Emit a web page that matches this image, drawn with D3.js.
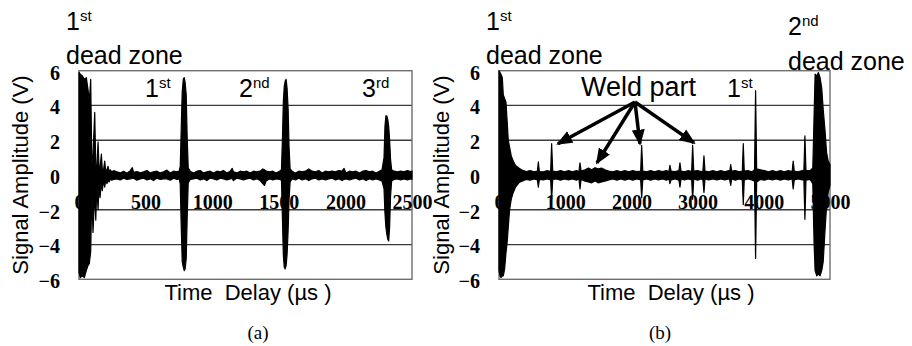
<!DOCTYPE html>
<html>
<head>
<meta charset="utf-8">
<script src="https://cdn.jsdelivr.net/npm/d3@7"></script>
<style>
  body { margin: 0; background: #fff; }
  text { white-space: pre; }
</style>
</head>
<body>
<div id="chart"></div>
<script>
// y axis (both panels)
const yTicks = [-6, -4, -2, 0, 2, 4, 6];
const gridValues = [-4, -2, 2, 4];

// panel (a) : 0..2500 us
const xTicksA = [0, 500, 1000, 1500, 2000, 2500];
// [time us, upper envelope V, lower envelope V]
const signalA = [
  [0, 5.9, -5.6], [10, 5.8, -5.9], [25, 5.7, -5.8], [40, 5.5, -5.9], [55, 5.6, -5.5],
  [68, 4.9, -5.2], [77, 4.2, -5.1], [88, 5.5, -4.4], [96, 0.6, -1.0], [105, 1.2, -3.3],
  [118, 3.6, -1.0], [126, 0.5, -2.6], [134, 0.4, -0.6], [143, 1.9, -2.0], [151, 0.3, -0.5],
  [158, 0.4, -1.3], [168, 1.2, -0.4], [175, 0.3, -0.9], [184, 0.3, -0.3], [193, 0.8, -0.7],
  [200, 0.25, -0.3], [210, 0.3, -0.5], [218, 0.5, -0.3], [226, 0.2, -0.4], [235, 0.3, -0.22],
  [245, 0.18, -0.3], [260, 0.25, -0.25],
  [285, 0.18, -0.22], [310, 0.12, -0.28], [335, 0.22, -0.18], [360, 0.1, -0.26], [385, 0.25, -0.22],
  [400, 0.42, -0.2], [410, 0.15, -0.18], [435, 0.2, -0.3], [460, 0.12, -0.22], [485, 0.18, -0.18],
  [510, 0.26, -0.28], [535, 0.12, -0.22], [560, 0.18, -0.32], [585, 0.22, -0.18], [610, 0.12, -0.26],
  [635, 0.18, -0.22], [660, 0.28, -0.22], [685, 0.12, -0.3], [710, 0.22, -0.18], [735, 0.18, -0.26],
  [752, 0.22, -0.22],
  [760, 0.5, -0.5], [767, 2.5, -2.8], [775, 4.8, -5.0], [783, 5.5, -5.3], [790, 5.6, -5.5],
  [797, 5.3, -5.4], [805, 4.6, -4.8], [812, 2.2, -2.5], [820, 0.4, -0.45],
  [835, 0.22, -0.26], [860, 0.12, -0.22], [885, 0.22, -0.18], [910, 0.26, -0.28], [935, 0.12, -0.22],
  [960, 0.18, -0.32], [985, 0.22, -0.18], [1010, 0.12, -0.22], [1035, 0.22, -0.28], [1060, 0.18, -0.18],
  [1085, 0.26, -0.22], [1110, 0.12, -0.28], [1135, 0.22, -0.22], [1150, 0.38, -0.2], [1160, 0.18, -0.32],
  [1185, 0.12, -0.18], [1210, 0.22, -0.22], [1235, 0.18, -0.28], [1260, 0.22, -0.22], [1285, 0.12, -0.18],
  [1310, 0.22, -0.28], [1335, 0.18, -0.22], [1360, 0.22, -0.32], [1380, 0.35, -0.5], [1392, 0.3, -0.6],
  [1405, 0.22, -0.35], [1430, 0.18, -0.22], [1455, 0.22, -0.28], [1480, 0.12, -0.22], [1505, 0.22, -0.26],
  [1520, 0.3, -0.3],
  [1527, 2.0, -2.4], [1534, 4.2, -4.6], [1541, 5.1, -5.3], [1548, 5.4, -5.4], [1555, 5.5, -5.2],
  [1562, 5.0, -4.6], [1570, 3.8, -3.2], [1577, 1.6, -1.4], [1585, 0.35, -0.4],
  [1600, 0.22, -0.22], [1625, 0.12, -0.28], [1650, 0.22, -0.18], [1675, 0.18, -0.28], [1700, 0.22, -0.22],
  [1725, 0.35, -0.32], [1750, 0.22, -0.22], [1775, 0.18, -0.18], [1800, 0.26, -0.28], [1825, 0.12, -0.22],
  [1850, 0.22, -0.28], [1875, 0.18, -0.22], [1900, 0.22, -0.18], [1925, 0.18, -0.28], [1950, 0.26, -0.22],
  [1975, 0.22, -0.32], [1990, 0.38, -0.25], [2005, 0.12, -0.22], [2030, 0.22, -0.28], [2055, 0.18, -0.22],
  [2080, 0.22, -0.18], [2105, 0.12, -0.28], [2130, 0.22, -0.22], [2155, 0.26, -0.32], [2180, 0.18, -0.22],
  [2205, 0.22, -0.28], [2230, 0.12, -0.22], [2255, 0.22, -0.28], [2275, 0.3, -0.35],
  [2290, 1.0, -0.8], [2297, 2.8, -2.2], [2304, 3.4, -3.0], [2311, 3.4, -3.4], [2318, 3.2, -3.7],
  [2325, 2.8, -3.8], [2332, 2.0, -3.0], [2339, 0.9, -1.2], [2347, 0.3, -0.35],
  [2365, 0.22, -0.26], [2390, 0.18, -0.22], [2415, 0.22, -0.28], [2440, 0.18, -0.22], [2465, 0.26, -0.28],
  [2490, 0.2, -0.22], [2500, 0.22, -0.24]
];

// panel (b) : 0..5000 us
const xTicksB = [0, 1000, 2000, 3000, 4000, 5000];
const signalB = [
  [0, 6.0, -5.5], [15, 5.9, -5.8], [30, 5.8, -5.9], [50, 5.6, -5.8], [65, 4.6, -5.8],
  [85, 4.4, -5.4], [105, 4.2, -4.5], [125, 3.0, -3.8], [140, 2.0, -3.0], [160, 1.6, -2.0],
  [185, 1.1, -1.4], [215, 0.8, -1.0], [250, 0.55, -0.7], [300, 0.4, -0.45], [350, 0.28, -0.35],
  [410, 0.2, -0.25], [470, 0.25, -0.3], [530, 0.18, -0.22], [580, 0.22, -0.28],
  [594, 0.75, -0.7], [610, 0.2, -0.25], [670, 0.18, -0.28], [730, 0.25, -0.22], [780, 0.2, -0.28],
  [795, 1.8, -1.4], [812, 0.22, -0.25], [870, 0.18, -0.22], [930, 0.25, -0.3], [990, 0.18, -0.22],
  [1050, 0.25, -0.28], [1110, 0.18, -0.22], [1170, 0.25, -0.3], [1208, 0.2, -0.22],
  [1223, 0.7, -0.8], [1240, 0.22, -0.25], [1300, 0.3, -0.35], [1350, 0.4, -0.4], [1400, 0.3, -0.45],
  [1450, 0.42, -0.35], [1500, 0.35, -0.45], [1550, 0.4, -0.4], [1600, 0.3, -0.35], [1660, 0.22, -0.28],
  [1720, 0.18, -0.22], [1780, 0.25, -0.3], [1840, 0.18, -0.22], [1900, 0.25, -0.3], [1960, 0.18, -0.22],
  [2020, 0.25, -0.3], [2080, 0.2, -0.22], [2140, 0.22, -0.28],
  [2155, 1.7, -1.3], [2172, 0.22, -0.28], [2230, 0.18, -0.22], [2290, 0.25, -0.3], [2350, 0.18, -0.22],
  [2410, 0.25, -0.28], [2470, 0.2, -0.22], [2530, 0.25, -0.3], [2567, 0.2, -0.22],
  [2582, 0.55, -0.5], [2600, 0.22, -0.28], [2660, 0.2, -0.22], [2718, 0.25, -0.3],
  [2733, 0.7, -0.7], [2750, 0.22, -0.22], [2800, 0.18, -0.28], [2860, 0.25, -0.22], [2910, 0.2, -0.28],
  [2925, 1.7, -1.4], [2942, 0.22, -0.22], [3000, 0.25, -0.3], [3050, 0.2, -0.22], [3080, 0.22, -0.28],
  [3096, 1.1, -1.0], [3112, 0.22, -0.22], [3170, 0.18, -0.28], [3230, 0.25, -0.22], [3290, 0.18, -0.28],
  [3350, 0.25, -0.22], [3410, 0.18, -0.28], [3470, 0.25, -0.22], [3485, 0.2, -0.28],
  [3500, 0.6, -0.6], [3515, 0.22, -0.22], [3570, 0.25, -0.3], [3630, 0.18, -0.22], [3675, 0.22, -0.28],
  [3690, 1.8, -1.7], [3705, 0.22, -0.28], [3760, 0.25, -0.22], [3820, 0.18, -0.28], [3860, 0.3, -0.35],
  [3876, 4.85, -4.8], [3892, 0.35, -0.4], [3950, 0.3, -0.25], [4010, 0.25, -0.3], [4070, 0.18, -0.22],
  [4130, 0.25, -0.28], [4190, 0.18, -0.22], [4250, 0.25, -0.3], [4310, 0.18, -0.22], [4370, 0.25, -0.28],
  [4428, 0.2, -0.22], [4444, 0.8, -0.8], [4460, 0.22, -0.28], [4520, 0.18, -0.22], [4580, 0.25, -0.28],
  [4605, 0.22, -0.25], [4621, 2.25, -2.55], [4637, 0.25, -0.3], [4700, 0.25, -0.25], [4740, 0.4, -0.5],
  [4760, 3.5, -4.0], [4775, 5.8, -5.5], [4800, 5.7, -5.8], [4825, 5.9, -5.7], [4850, 5.6, -5.8],
  [4875, 5.0, -5.5], [4897, 3.8, -5.0], [4923, 2.65, -3.3], [4948, 1.3, -1.8], [4973, 0.8, -1.0],
  [5000, 0.6, -0.6]
];

// "Weld part" arrows, in panel (b) data units: [from time, from V, to time, to V]
const weldArrows = [
  [2054, 4.2, 891, 1.8],
  [2054, 4.2, 1480, 0.7],
  [2054, 4.2, 2129, 1.8],
  [2054, 4.2, 2945, 1.85]
];

const W = 912, H = 346;
const sans = 'Liberation Sans, Arial, sans-serif';
const serif = 'Liberation Serif, Times New Roman, serif';

const svg = d3.select('#chart').append('svg')
  .attr('width', W).attr('height', H)
  .style('background', '#fff');

const defs = svg.append('defs');
defs.append('marker')
  .attr('id', 'head')
  .attr('markerUnits', 'userSpaceOnUse')
  .attr('viewBox', '0 -7 16 14')
  .attr('refX', 14).attr('refY', 0)
  .attr('markerWidth', 16).attr('markerHeight', 14)
  .attr('orient', 'auto')
  .append('path')
  .attr('d', 'M0,-6.5L16,0L0,6.5Z')
  .attr('fill', '#000');

const y = d3.scaleLinear().domain([-6, 6]).range([279.3, 70.7]);

const panels = [
  { left: 79, right: 412, domain: [0, 2500], ticks: xTicksA, signal: signalA,
    yTitleX: 27.5, xTitleX: 248, caption: '(a)', captionX: 258 },
  { left: 499, right: 830, domain: [0, 5000], ticks: xTicksB, signal: signalB,
    yTitleX: 449, xTitleX: 671, caption: '(b)', captionX: 660 }
];

panels.forEach(p => {
  const x = d3.scaleLinear().domain(p.domain).range([p.left, p.right]);
  p.x = x;
  const g = svg.append('g');

  // grid lines
  g.selectAll('.grid')
    .data(gridValues)
    .enter()
    .append('line')
    .attr('x1', p.left).attr('x2', p.right)
    .attr('y1', d => y(d)).attr('y2', d => y(d))
    .attr('stroke', '#3a3a3a')
    .attr('stroke-width', 1.3);

  // plot frame
  g.append('rect')
    .attr('x', p.left).attr('y', y(6))
    .attr('width', p.right - p.left).attr('height', y(-6) - y(6))
    .attr('fill', 'none')
    .attr('stroke', '#6e6e6e')
    .attr('stroke-width', 1.4);

  // signal envelope
  const area = d3.area()
    .x(d => x(d[0]))
    .y0(d => y(d[2]))
    .y1(d => y(d[1]));

  g.append('path')
    .datum(p.signal)
    .attr('d', area)
    .attr('fill', '#000')
    .attr('stroke', '#000')
    .attr('stroke-width', 1.2)
    .attr('stroke-linejoin', 'round');

  // y axis labels
  const yAxis = d3.axisLeft(y).tickValues(yTicks).tickSize(0).tickPadding(19)
    .tickFormat(d3.format('d'));
  const ya = g.append('g').attr('transform', `translate(${p.left},2)`).call(yAxis);
  ya.select('.domain').remove();
  ya.selectAll('text')
    .attr('font-family', serif).attr('font-weight', 'bold').attr('font-size', 20)
    .attr('fill', '#000');

  // x axis labels sit under the zero line
  const xAxis = d3.axisBottom(x).tickValues(p.ticks).tickSize(0).tickPadding(19.5)
    .tickFormat(d3.format('d'));
  const xa = g.append('g').attr('transform', `translate(0,${y(0)})`).call(xAxis);
  xa.select('.domain').remove();
  xa.selectAll('text')
    .attr('font-family', serif).attr('font-weight', 'bold').attr('font-size', 20)
    .attr('fill', '#000');

  // axis titles
  svg.append('text')
    .attr('transform', `translate(${p.yTitleX},${(y(6) + y(-6)) / 2}) rotate(-90)`)
    .attr('text-anchor', 'middle')
    .attr('font-family', sans).attr('font-size', 22)
    .text('Signal Amplitude (V)');

  svg.append('text')
    .attr('x', p.xTitleX).attr('y', 300)
    .attr('text-anchor', 'middle')
    .attr('font-family', sans).attr('font-size', 22)
    .text('Time  Delay (µs )');

  svg.append('text')
    .attr('x', p.captionX).attr('y', 339)
    .attr('text-anchor', 'middle')
    .attr('font-family', serif).attr('font-size', 19)
    .text(p.caption);
});

// annotations
function ordinal(xp, yp, num, sup) {
  const t = svg.append('text')
    .attr('x', xp).attr('y', yp)
    .attr('font-family', sans).attr('font-size', 25);
  t.append('tspan').text(num);
  t.append('tspan').attr('dy', -9).attr('font-size', 15).text(sup);
}
function label(xp, yp, s, size) {
  svg.append('text')
    .attr('x', xp).attr('y', yp)
    .attr('font-family', sans).attr('font-size', size || 25)
    .text(s);
}

ordinal(66, 30, '1', 'st');
label(66, 64, 'dead zone');
ordinal(145, 97, '1', 'st');
ordinal(239, 97, '2', 'nd');
ordinal(362, 97, '3', 'rd');

ordinal(486, 30, '1', 'st');
label(486, 64, 'dead zone');
ordinal(788, 35, '2', 'nd');
label(788, 70, 'dead zone');
label(581, 96, 'Weld part', 27);
ordinal(727, 97, '1', 'st');

const xb = panels[1].x;
svg.selectAll('.arrow')
  .data(weldArrows)
  .enter()
  .append('line')
  .attr('x1', d => xb(d[0])).attr('y1', d => y(d[1]))
  .attr('x2', d => xb(d[2])).attr('y2', d => y(d[3]))
  .attr('stroke', '#000')
  .attr('stroke-width', 3.5)
  .attr('marker-end', 'url(#head)');
</script>
</body>
</html>
